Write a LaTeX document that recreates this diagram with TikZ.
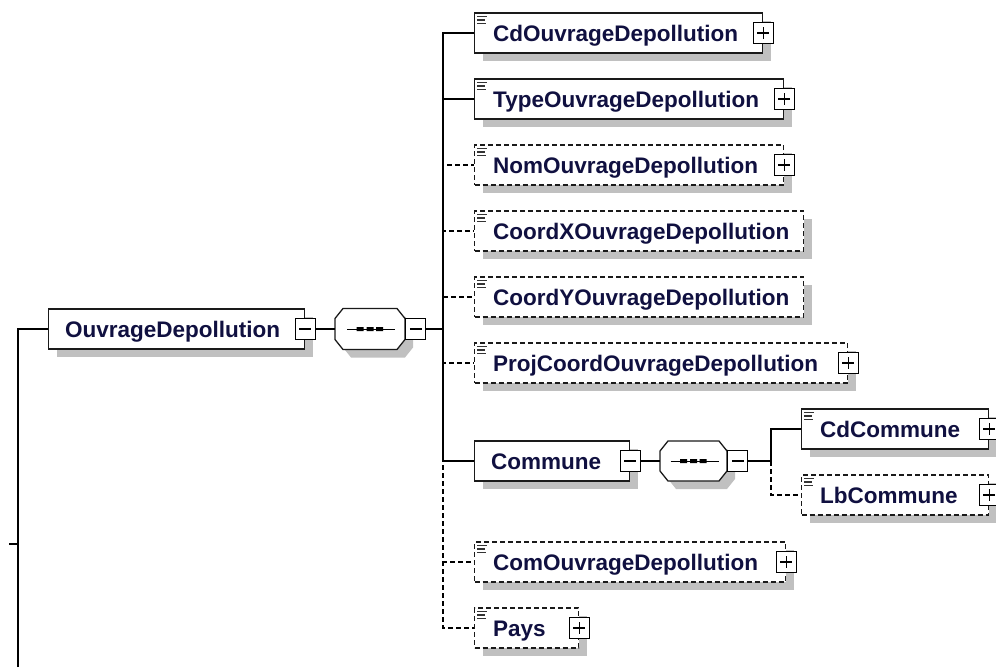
\documentclass[tikz,border=0pt]{standalone}
\usepackage{fontspec}
\setmainfont{Liberation Sans}
\usetikzlibrary{shadows}
\definecolor{txt}{HTML}{101040}
\definecolor{shd}{HTML}{C0C0C0}
\definecolor{edge}{HTML}{1A1A1A}
\tikzset{
  elbox/.style={draw=edge, line width=1.3pt, fill=white, rectangle, inner sep=0pt,
    minimum height=40pt, anchor=west,
    general shadow={fill=shd, shadow xshift=8pt, shadow yshift=-8pt}},
  opt/.style={dash pattern=on 5pt off 3pt},
  lbl/.style={font=\fontsize{22.5}{26}\selectfont\bfseries, text=txt, anchor=base west, inner sep=0pt},
  pmbox/.style={draw=black, line width=1.2pt, fill=white, minimum width=20pt,
    minimum height=21pt, inner sep=0pt},
  conn/.style={draw=black, line width=1.3pt},
  seqbox/.style={minimum width=70pt, minimum height=41pt, inner sep=0pt},
}
\newcommand\xicon[1]{%
  \draw[line width=1.6pt, black!80, shift={(#1.north west)}]
    (3,4) -- (13,4) (3,7.5) -- (11,7.5) (3,11) -- (12,11);}
\newcommand\xplus[2]{%
  \node[pmbox] (#1) at (#2) {};
  \draw[line width=1.2pt, shift={(#1.center)}] (-6,0) -- (6,0) (0,-6) -- (0,6);}
\newcommand\xminus[2]{%
  \node[pmbox] (#1) at (#2) {};
  \draw[line width=1.2pt, shift={(#1.center)}] (-6,0) -- (6,0);}
\newcommand\xocto[3]{% name, half width, half height
  \fill[shd, shift={(#1.center)}, xshift=8pt, yshift=-8pt]
    (-#2+8,-#3) -- (#2-8,-#3) -- (#2,-#3+10) -- (#2,#3-10) -- (#2-8,#3)
    -- (-#2+8,#3) -- (-#2,#3-10) -- (-#2,-#3+10) -- cycle;
  \draw[line width=1.3pt, draw=edge, fill=white, shift={(#1.center)}]
    (-#2+8,-#3) -- (#2-8,-#3) -- (#2,-#3+10) -- (#2,#3-10) -- (#2-8,#3)
    -- (-#2+8,#3) -- (-#2,#3-10) -- (-#2,-#3+10) -- cycle;
  \draw[line width=1pt, shift={(#1.center)}] (-23,0) -- (25,0);
  \fill[shift={(#1.center)}] (-13.5,-2) rectangle (-6.5,2) (-3.5,-2) rectangle (3.5,2)
    (6,-2) rectangle (13,2);}
\begin{document}
\begin{tikzpicture}[x=1pt, y=-1pt]
\useasboundingbox (0,0) rectangle (996,667);

\coordinate (lb) at (18,667);
\coordinate (tk) at (9,544);
\coordinate (j1) at (443,329);
\coordinate (j2) at (771,461);

% ---- root element ----
\node[elbox, minimum width=256pt] (ouv) at (48,329) {};
\node[lbl] (ouvt) at ([shift={(17,8)}]ouv.west) {OuvrageDepollution};
\xminus{ouvpm}{ouv.east}

% ---- sequence 1 ----
\node[seqbox] (s1) at (370,329) {};
\xocto{s1}{35}{20.5}
\node[pmbox, anchor=west] (s1pm) at (s1.east) {};
\draw[line width=1.2pt, shift={(s1pm.center)}] (-6,0) -- (6,0);

% ---- children ----
\node[elbox, minimum width=288pt] (cd) at (474,33) {};
\node[lbl] (cdt) at ([shift={(19,8)}]cd.west) {CdOuvrageDepollution};
\xicon{cd}\xplus{cdpm}{cd.east}

\node[elbox, minimum width=309pt] (ty) at (474,99) {};
\node[lbl] (tyt) at ([shift={(19,8)}]ty.west) {TypeOuvrageDepollution};
\xicon{ty}\xplus{typm}{ty.east}

\node[elbox, opt, minimum width=309pt] (nom) at (474,165) {};
\node[lbl] (nomt) at ([shift={(19,8)}]nom.west) {NomOuvrageDepollution};
\xicon{nom}\xplus{nompm}{nom.east}

\node[elbox, opt, minimum width=329pt] (cx) at (474,231) {};
\node[lbl] (cxt) at ([shift={(19,8)}]cx.west) {CoordXOuvrageDepollution};
\xicon{cx}

\node[elbox, opt, minimum width=329pt] (cy) at (474,297) {};
\node[lbl] (cyt) at ([shift={(19,8)}]cy.west) {CoordYOuvrageDepollution};
\xicon{cy}

\node[elbox, opt, minimum width=373pt] (pj) at (474,363) {};
\node[lbl] (pjt) at ([shift={(19,8)}]pj.west) {ProjCoordOuvrageDepollution};
\xicon{pj}\xplus{pjpm}{pj.east}

\node[elbox, minimum width=155pt] (cm) at (474,461) {};
\node[lbl] (cmt) at ([shift={(17,8)}]cm.west) {Commune};
\xminus{cmpm}{cm.east}

\node[seqbox, minimum width=67pt, minimum height=40pt] (s2) at (693.5,461) {};
\xocto{s2}{33.5}{20}
\node[pmbox, anchor=west] (s2pm) at (s2.east) {};
\draw[line width=1.2pt, shift={(s2pm.center)}] (-6,0) -- (6,0);

\node[elbox, minimum width=187pt] (cdc) at (801,429) {};
\node[lbl] (cdct) at ([shift={(19,8)}]cdc.west) {CdCommune};
\xicon{cdc}\xplus{cdcpm}{cdc.east}

\node[elbox, opt, minimum width=187pt] (lbc) at (801,495) {};
\node[lbl] (lbct) at ([shift={(19,8)}]lbc.west) {LbCommune};
\xicon{lbc}\xplus{lbcpm}{lbc.east}

\node[elbox, opt, minimum width=311pt] (com) at (474,562) {};
\node[lbl] (comt) at ([shift={(19,8)}]com.west) {ComOuvrageDepollution};
\xicon{com}\xplus{compm}{com.east}

\node[elbox, opt, minimum width=104pt] (pays) at (474,628) {};
\node[lbl] (payst) at ([shift={(19,8)}]pays.west) {Pays};
\xicon{pays}\xplus{payspm}{pays.east}

% ---- connector lines ----
\draw[conn] (lb) |- (ouv.west);
\draw[conn] (tk) -- (tk -| lb);
\draw[conn] (ouvpm.east) -- (s1.west);
\draw[conn] (s1pm.east) -- (j1);
\draw[conn, opt] (j1) |- (nom.west);
\draw[conn, opt] (j1) |- (cx.west);
\draw[conn, opt] (j1) |- (cy.west);
\draw[conn, opt] (j1) |- (pj.west);
\draw[conn, opt] (j1) |- (com.west);
\draw[conn, opt] (j1) |- (pays.west);
\draw[conn] (j1) |- (cd.west);
\draw[conn] (j1) |- (ty.west);
\draw[conn] (j1) |- (cm.west);
\draw[conn] (cmpm.east) -- (s2.west);
\draw[conn] (s2pm.east) -- (j2);
\draw[conn, opt] (j2) |- (lbc.west);
\draw[conn] (j2) |- (cdc.west);
\end{tikzpicture}
\end{document}
